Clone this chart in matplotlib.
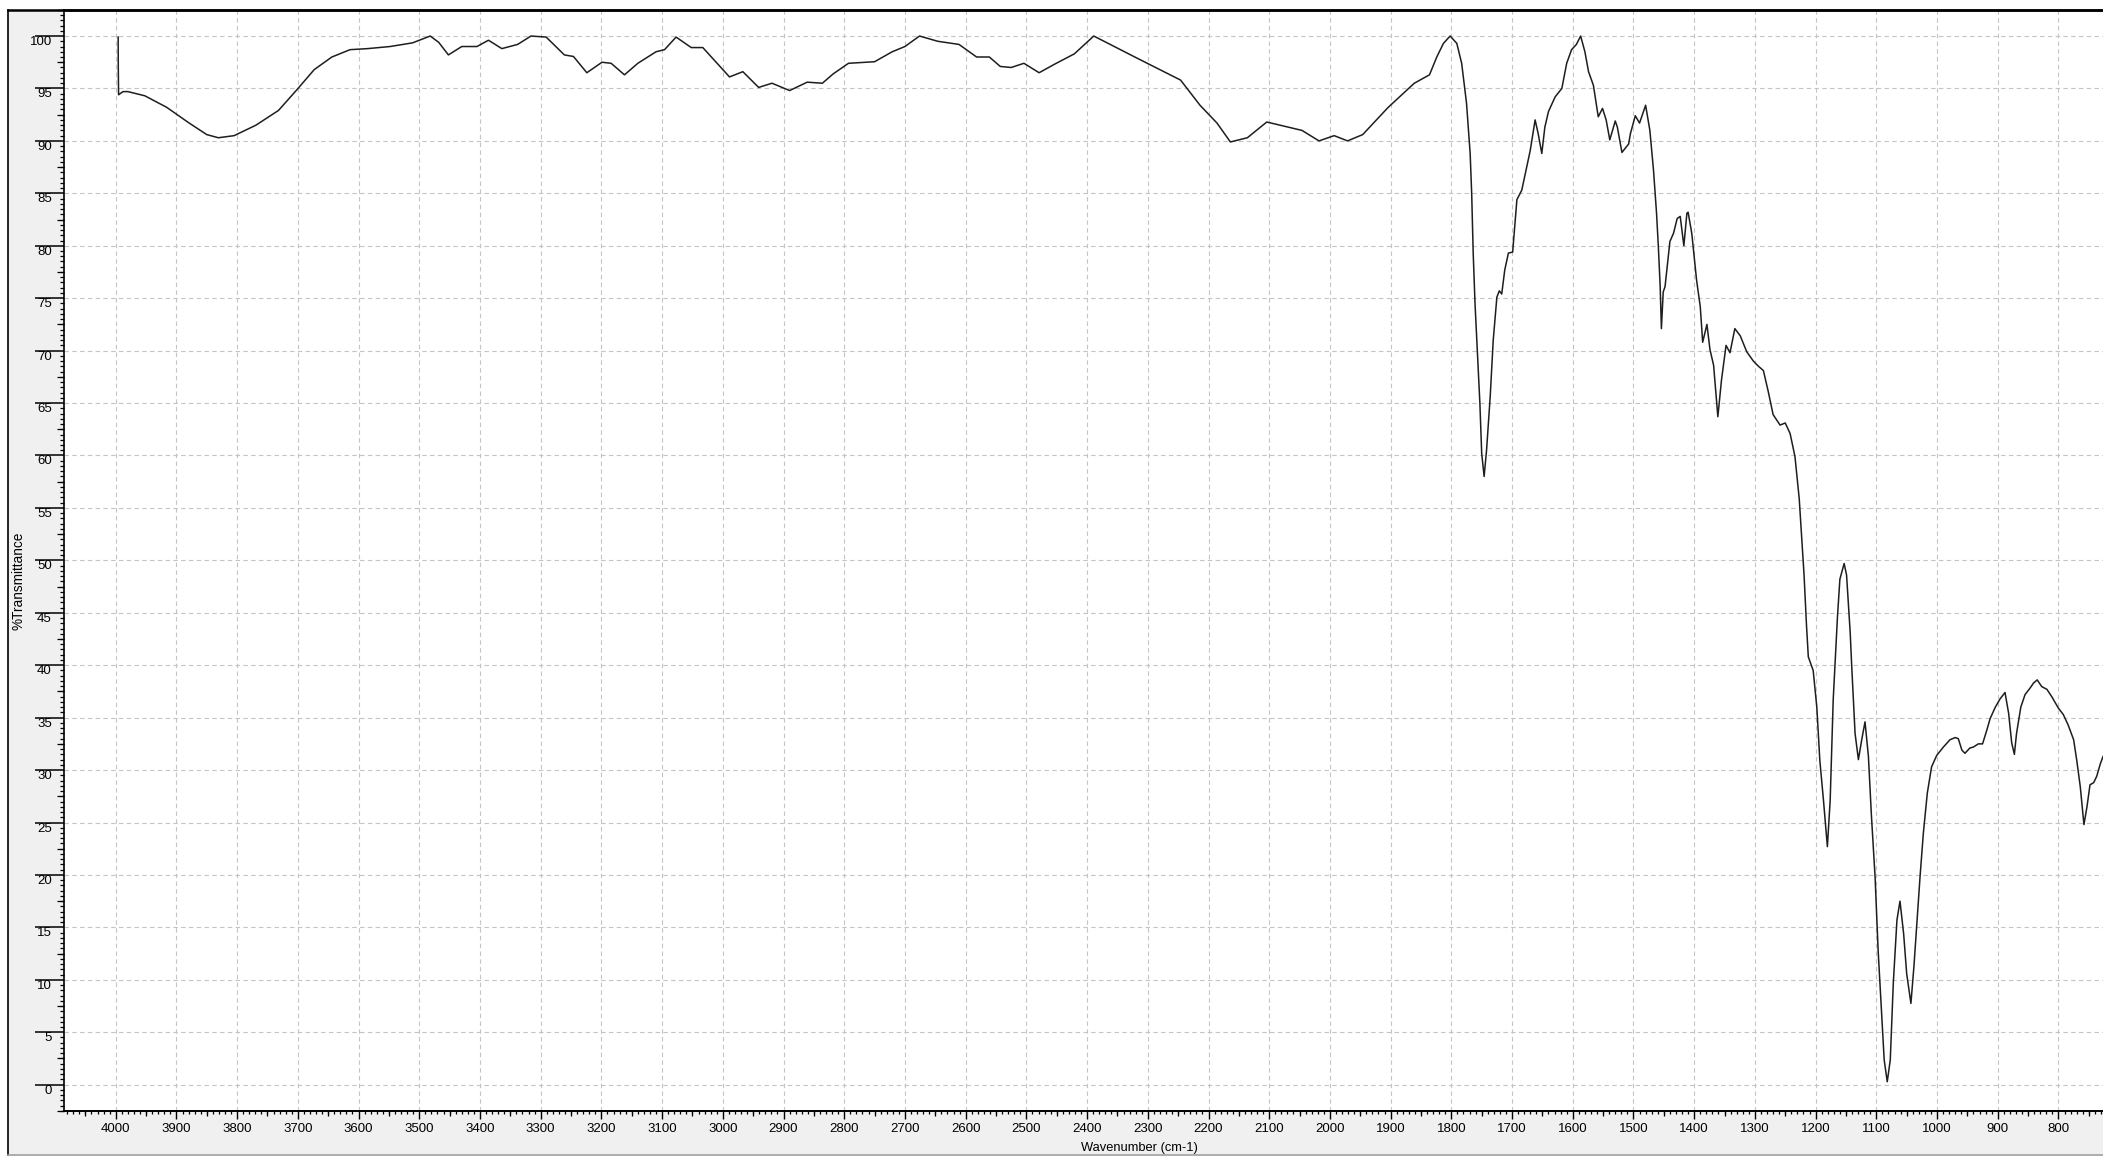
import matplotlib
matplotlib.use('Agg')
import numpy as np
import matplotlib.pyplot as plt
from matplotlib.ticker import MultipleLocator
from matplotlib.lines import Line2D
from matplotlib.patches import Rectangle

# FTIR spectrum, wavenumber (cm-1) vs %T
wavenumber = [
    3996.0, 3995.8, 3995.3, 3988, 3980, 3952, 3916, 3879, 3850, 3831, 3805, 3769,
    3732, 3702, 3673, 3644, 3614, 3585, 3548, 3511, 3482, 3468, 3452, 3430, 3405,
    3386, 3364, 3338, 3316, 3291, 3261, 3246, 3224, 3199, 3184, 3162, 3140, 3110,
    3096, 3077, 3052, 3033, 3011, 2989, 2967, 2941, 2919, 2890, 2861, 2836, 2818,
    2793, 2750, 2721, 2700, 2676, 2646, 2611, 2582, 2561, 2543, 2525, 2504, 2479,
    2454, 2421, 2389, 2318, 2246, 2214, 2186, 2164, 2136, 2104, 2075, 2046, 2018,
    1993, 1971, 1946, 1904, 1861, 1836, 1824, 1813, 1802, 1791, 1783, 1775, 1769,
    1766.5, 1764, 1761, 1757, 1753, 1750, 1746, 1742, 1736, 1731, 1725, 1721, 1717,
    1712, 1706, 1699, 1692, 1684, 1676, 1670, 1662, 1657, 1651, 1646, 1640, 1629,
    1618, 1610, 1602, 1594, 1587, 1580, 1574, 1566, 1558, 1551, 1545, 1539, 1530,
    1526.5, 1519, 1508, 1505, 1497, 1490, 1480, 1473, 1467, 1462, 1459, 1456, 1454,
    1451, 1448, 1440, 1434, 1428, 1423, 1417, 1412, 1410, 1404, 1396, 1390, 1386,
    1379, 1374, 1368, 1361, 1355, 1347.5, 1341, 1333, 1324, 1313.5, 1302.5, 1294,
    1286, 1278, 1270, 1258.5, 1250, 1242, 1234, 1227, 1223, 1219, 1215, 1212, 1204,
    1198, 1193, 1187, 1180.6, 1176, 1171, 1164, 1160, 1153, 1149, 1143, 1140.5, 1135,
    1129.5, 1124, 1118.6, 1113, 1108, 1102, 1097, 1091, 1087, 1082, 1077, 1072, 1066,
    1061, 1055, 1050, 1043, 1038, 1033.5, 1028, 1022.5, 1016, 1009, 1000.5, 989.5,
    978.5, 970, 965, 959, 954, 946, 940, 932, 925, 918, 912.6, 904, 896, 888, 882,
    877, 872.6, 869, 862, 855, 847, 841, 835, 827.5, 819, 811, 800, 792, 784, 775,
    770, 764, 758, 753, 748, 742, 737, 731, 726.5,
]
transmittance = [
    99.9, 97.1, 94.4, 94.7, 94.7, 94.3, 93.2, 91.7, 90.6, 90.3, 90.5, 91.5,
    92.9, 94.85, 96.8, 98.0, 98.7, 98.8, 99.0, 99.35, 100.0, 99.4, 98.2, 99.0, 99.0,
    99.6, 98.8, 99.2, 100.0, 99.9, 98.2, 98.05, 96.5, 97.5, 97.4, 96.3, 97.4, 98.5,
    98.7, 99.9, 98.9, 98.9, 97.5, 96.1, 96.6, 95.1, 95.5, 94.8, 95.6, 95.5, 96.4,
    97.4, 97.55, 98.5, 99.0, 100.0, 99.5, 99.2, 98.0, 98.0, 97.1, 97.0, 97.4, 96.5,
    97.3, 98.3, 100.0, 97.9, 95.8, 93.4, 91.7, 89.9, 90.3, 91.8, 91.4, 91.0, 90.0,
    90.5, 90.0, 90.6, 93.2, 95.5, 96.3, 98.0, 99.3, 100.0, 99.3, 97.4, 93.6, 88.8,
    85.0, 79.3, 74.5, 69.7, 65.0, 60.2, 58.0, 60.5, 65.6, 71.0, 75.1, 75.7, 75.4,
    77.7, 79.3, 79.4, 84.4, 85.3, 87.5, 89.1, 92.0, 90.7, 88.8, 91.3, 92.8, 94.2,
    95.0, 97.4, 98.7, 99.2, 100.0, 98.5, 96.6, 95.3, 92.3, 93.1, 92.0, 90.1, 91.9,
    91.3, 88.9, 89.7, 90.7, 92.4, 91.7, 93.4, 91.0, 87.2, 83.1, 79.9, 76.1, 72.1,
    75.6, 76.1, 80.4, 81.2, 82.6, 82.8, 80.0, 83.1, 83.2, 81.2, 76.7, 74.2, 70.8,
    72.5, 70.1, 68.6, 63.7, 67.2, 70.5, 69.8, 72.1, 71.4, 69.9, 69.0, 68.5,
    68.1, 66.1, 63.9, 62.9, 63.1, 62.1, 59.9, 55.9, 52.2, 48.6, 43.8, 40.8, 39.5,
    36.0, 30.9, 27.1, 22.7, 27.1, 36.7, 44.6, 48.2, 49.7, 48.6, 43.1, 39.9, 33.5,
    31.0, 32.9, 34.6, 31.3, 25.6, 19.8, 12.8, 6.5, 2.35, 0.28, 2.35, 9.7, 15.7,
    17.5, 14.4, 10.6, 7.75, 11.3, 15.1, 19.8, 24.0, 27.8, 30.3, 31.4, 32.2,
    32.9, 33.1, 33.0, 31.9, 31.6, 32.1, 32.2, 32.5, 32.5, 33.8, 34.9, 36.0, 36.8, 37.4, 35.4,
    32.6, 31.5, 33.5, 36.0, 37.2, 37.8, 38.3, 38.6, 37.96, 37.7, 37.0, 35.9, 35.3, 34.3, 32.9,
    31.0, 28.4, 24.8, 26.5, 28.6, 28.8, 29.4, 30.6, 31.3,
]

plt.rcParams['font.family'] = ['Liberation Sans', 'DejaVu Sans']

W, H = 2103, 1157
fig = plt.figure(figsize=(W / 100, H / 100), dpi=100, facecolor='white')

# grey window panel with its frame
fig.add_artist(Rectangle((8 / W, 2 / H), 1, 1 - 11.5 / H, transform=fig.transFigure,
                         facecolor='#f0f0f0', edgecolor='none', zorder=0))
fig.add_artist(Line2D([8 / W, 8 / W], [2 / H, 1 - 9.5 / H], color='black', lw=1.2))
fig.add_artist(Line2D([8 / W, 1], [1 - 9.5 / H] * 2, color='black', lw=1.8))
fig.add_artist(Line2D([8 / W, 1], [2 / H, 2 / H], color='#a0a0a0', lw=1.2))

ax = fig.add_axes([64 / W, 46 / H, 1 - 64 / W, (1111 - 9.5) / H])
ax.set_facecolor('white')
ax.plot(wavenumber, transmittance, color='#1e1e1e', lw=1.1)

ax.set_xlim(4085.2, 726.6)
ax.set_ylim(-2.51, 102.53)

ax.xaxis.set_major_locator(MultipleLocator(100))
ax.xaxis.set_minor_locator(MultipleLocator(10))
ax.yaxis.set_major_locator(MultipleLocator(5))
ax.yaxis.set_minor_locator(MultipleLocator(0.5))

ax.grid(which='major', color='#c4c4c4', linestyle=(0, (4, 3)), linewidth=0.8)

for side in ('right',):
    ax.spines[side].set_visible(False)
ax.spines['top'].set_linewidth(1.8)
ax.spines['left'].set_linewidth(1.2)
ax.spines['bottom'].set_linewidth(1.4)

ax.tick_params(axis='x', which='major', direction='out', length=5.5, width=1.0,
               pad=3.2, labelsize=9.5, colors='black')
ax.tick_params(axis='x', which='minor', direction='out', length=2.4, width=0.9)
ax.tick_params(axis='y', which='major', direction='out', length=20.9, width=1.1,
               pad=-12.2, labelsize=9.5, colors='black')
ax.tick_params(axis='y', which='minor', direction='out', length=2.9, width=0.9)
for lab in ax.get_yticklabels():
    lab.set_verticalalignment('top')

# half-step ticks, slightly longer than the minor ones
secx = ax.secondary_xaxis('bottom')
secx.xaxis.set_major_locator(MultipleLocator(100, offset=50))
secx.tick_params(axis='x', length=3.8, width=0.9, labelbottom=False)
secx.spines['bottom'].set_visible(False)
secy = ax.secondary_yaxis('left')
secy.yaxis.set_major_locator(MultipleLocator(5, offset=2.5))
secy.tick_params(axis='y', length=5.0, width=0.9, labelleft=False)
secy.spines['left'].set_visible(False)

fig.text(1139 / W, 1 - 1147.5 / H, 'Wavenumber (cm-1)', ha='center', va='center',
         fontsize=9.3)
fig.text(19 / W, 1 - 581 / H, '%Transmittance', rotation=90, ha='center',
         va='center', fontsize=9.8)

fig.savefig('out.png', dpi=100)
